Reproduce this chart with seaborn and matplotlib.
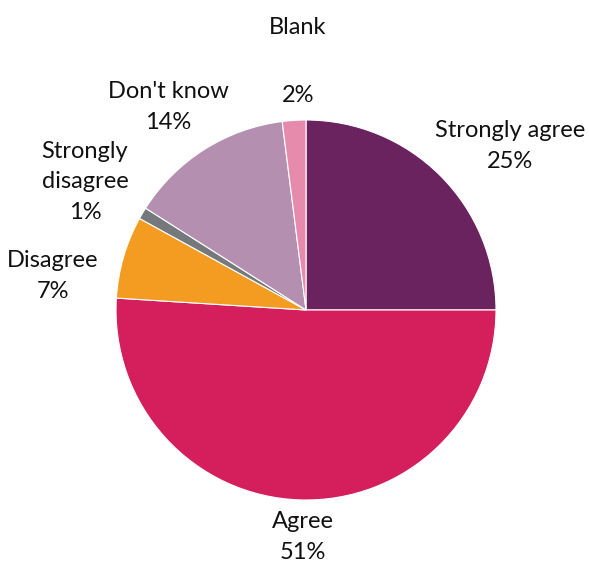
import numpy as np
import matplotlib
matplotlib.use("Agg")
import matplotlib.pyplot as plt
import seaborn as sns

# data
categories = ["Strongly agree", "Agree", "Disagree", "Strongly disagree", "Don't know", "Blank"]
shares = [25, 51, 7, 1, 14, 2]
colors = ["#6B2360", "#D41F5C", "#F39C21", "#75797B", "#B58FB0", "#E78BAD"]
label_texts = ["Strongly agree\n25%", "Agree\n51%", "Disagree\n7%",
               "Strongly\ndisagree\n1%", "Don't know\n14%", None]

# label anchor positions (pixels in the 589x563 image)
label_px = [(510, 146), (303, 537), (53, 276), (85, 182), (168, 107), None]

sns.set_style("white")
plt.rcParams["font.family"] = ["Lato", "DejaVu Sans"]

W, H = 589, 563
fig = plt.figure(figsize=(W / 100, H / 100), dpi=100)
cx, cy, r = 306, 310, 190
ax = fig.add_axes([(cx - r) / W, (H - cy - r) / H, 2 * r / W, 2 * r / H])

ax.pie(shares, colors=colors, startangle=90, counterclock=False, radius=1,
       wedgeprops=dict(edgecolor="white", linewidth=0.8))
ax.set_xlim(-1, 1)
ax.set_ylim(-1, 1)
ax.set_aspect("equal")
ax.axis("off")

fs = 17
for txt, pos in zip(label_texts, label_px):
    if txt is None:
        continue
    fig.text(pos[0] / W, 1 - pos[1] / H, txt, ha="center", va="center",
             fontsize=fs, linespacing=1.55, color="#111111")

# Blank label sits apart from its value
fig.text(298 / W, 1 - 28 / H, categories[5], ha="center", va="center", fontsize=fs, color="#111111")
fig.text(298 / W, 1 - 95 / H, f"{shares[5]}%", ha="center", va="center", fontsize=fs, color="#111111")

fig.savefig("out.png", dpi=100)
